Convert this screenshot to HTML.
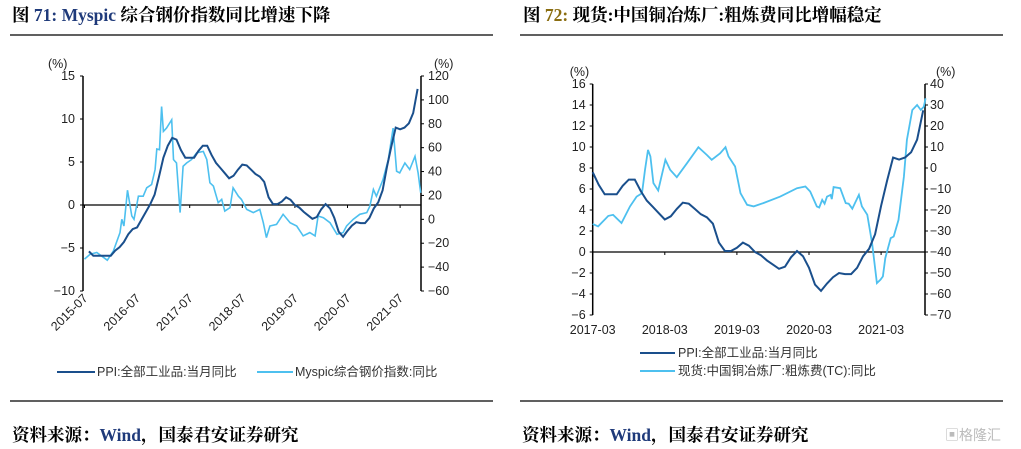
<!DOCTYPE html>
<html><head><meta charset="utf-8"><style>
body{margin:0;background:#fff;width:1021px;height:449px;overflow:hidden}
svg{display:block}
.t{font-family:"Liberation Serif","Noto Serif CJK SC",serif;font-weight:bold;font-size:17.5px}
.a{font-family:"Liberation Sans","Noto Sans CJK SC",sans-serif;font-size:12.5px;fill:#222}
.l{font-family:"Liberation Sans","Noto Sans CJK SC",sans-serif;font-size:12.5px;fill:#333}
</style></head><body>
<svg id="s" width="1021" height="449">
<text class="t" x="12" y="21">图 <tspan fill="#1f3a7a">71: Myspic</tspan> 综合钢价指数同比增速下降</text>
<line x1="10" y1="35" x2="493" y2="35" stroke="#000" stroke-width="1.3"/>
<text class="t" x="523" y="21">图 <tspan fill="#8a6d10">72:</tspan> 现货:中国铜冶炼厂:粗炼费同比增幅稳定</text>
<line x1="520" y1="35" x2="1003" y2="35" stroke="#000" stroke-width="1.3"/>
<line x1="10" y1="401" x2="493" y2="401" stroke="#000" stroke-width="1.3"/>
<line x1="520" y1="401" x2="1003" y2="401" stroke="#000" stroke-width="1.3"/>
<text class="t" x="12" y="441">资料来源：<tspan fill="#1f3a7a">Wind</tspan>，国泰君安证券研究</text>
<text class="t" x="522" y="441">资料来源：<tspan fill="#1f3a7a">Wind</tspan>，国泰君安证券研究</text>
<text x="945" y="440" font-family="Liberation Sans,Noto Sans CJK SC,sans-serif" font-size="14" fill="#bbb">▣格隆汇</text>
<g id="c1"></g>
<g id="c2"></g>
</svg>
<script>
// ---- Chart 1 data ----
const ppi1 = [-5.4,-5.9,-5.9,-5.9,-5.9,-5.9,-5.3,-4.9,-4.3,-3.4,-2.8,-2.6,-1.7,-0.8,0.1,1.2,3.3,5.5,6.9,7.8,7.6,6.4,5.5,5.5,5.5,6.3,6.9,6.9,5.8,4.9,4.3,3.7,3.1,3.4,4.1,4.7,4.6,4.1,3.6,3.3,2.7,0.9,0.1,0.1,0.4,0.9,0.6,0,-0.3,-0.8,-1.2,-1.6,-1.4,-0.5,0.1,-0.4,-1.5,-3.1,-3.7,-3.0,-2.4,-2.0,-2.1,-2.1,-1.5,-0.4,0.3,1.7,4.4,6.8,9.0,8.8,9.0,9.5,10.7,13.5];
const steelMonths = [0,1.3,2.8,5.2,6.6,8.1,8.5,9.0,9.8,10.8,11.3,12.3,13.4,14.2,15.3,16.1,16.5,17.1,17.6,18.0,18.7,19.9,20.3,21.0,21.8,22.5,23.3,24.4,25.6,27.1,27.9,28.6,29.4,30.5,31.3,32.0,33.2,33.9,35.1,35.8,37.0,38.5,40.0,40.8,41.5,42.3,43.8,45.3,46.9,48.4,49.9,51.4,52.6,53.3,54.5,56.0,57.6,59.0,59.8,61.3,62.8,64.4,65.1,65.9,66.6,68.1,69.3,70.4,71.2,71.9,73.1,74.2,75.4,76.1,76.7];
const steelVals = [-33.3,-29.2,-27.8,-34.2,-26.4,-11.1,0,-5.6,24.4,2.8,0,19.4,19.4,26.4,29.2,41.7,58.9,58.3,94.4,73.6,76.4,83.3,50,47.2,5.6,44.4,47.2,50,55.6,56.9,50,30.6,27.8,13.9,16.7,6.9,9.7,26.4,19.4,16.7,8.3,5.6,8.3,-2.8,-15.3,-5.6,-4.2,4.2,-2.8,-5.6,-13.9,-11.1,-13.9,2.8,1.4,-2.8,-12.5,-11.1,-5.6,0,4.2,5.6,11.1,25,19.4,33.3,50,76.4,40.3,38.9,47.2,41.7,52.8,38.9,22.2];
const ticks1L = [15,10,5,0,-5,-10];
const ticks1R = [120,100,80,60,40,20,0,-20,-40,-60];
const xlab1 = ["2015-07","2016-07","2017-07","2018-07","2019-07","2020-07","2021-07"];
// ---- Chart 2 data ----
const ppi2 = [7.6,6.4,5.5,5.5,5.5,6.3,6.9,6.9,5.8,4.9,4.3,3.7,3.1,3.4,4.1,4.7,4.6,4.1,3.6,3.3,2.7,0.9,0.1,0.1,0.4,0.9,0.6,0,-0.3,-0.8,-1.2,-1.6,-1.4,-0.5,0.1,-0.4,-1.5,-3.1,-3.7,-3.0,-2.4,-2.0,-2.1,-2.1,-1.5,-0.4,0.3,1.7,4.4,6.8,9.0,8.8,9.0,9.5,10.7,13.5];
const tcMonths = [0,0.9,2.6,3.4,4.8,6.2,7.3,8.2,8.7,9.2,9.6,10.1,10.9,12.1,12.9,14,15.7,17.6,19,19.8,21.2,22.1,22.6,23.7,24.6,25.7,26.8,28.4,31.2,34,35.4,36.2,37.3,37.7,38.2,38.6,39,39.6,39.8,40.1,41.2,42.1,42.6,43.2,43.7,44.3,44.8,45.7,46.5,47.3,47.9,48.3,48.7,49.6,50.1,50.9,51.8,52.3,53.2,54,54.6,55.1,55.4];
const tcVals = [-26.6,-27.8,-22.8,-22.3,-26.2,-18.3,-13.6,-12,-0.9,8.6,5.5,-7.2,-10.7,3.9,-0.9,-4.4,2.3,9.9,6.2,3.9,7,9.9,5.5,0.7,-12,-17.5,-18.3,-16.7,-13.6,-9.6,-8.8,-11.2,-18.3,-18.8,-15.2,-17,-13.6,-12.8,-14.8,-9.1,-9.6,-16.7,-17,-19.4,-16.4,-12.8,-18.3,-22.3,-35.8,-54.8,-53.2,-51.6,-42.9,-33.4,-32.6,-24.7,-4.1,13.4,27.6,30,27.6,29.2,33.2];
const ticks2L = [16,14,12,10,8,6,4,2,0,-2,-4,-6];
const ticks2R = [40,30,20,10,0,-10,-20,-30,-40,-50,-60,-70];
const xlab2 = ["2017-03","2018-03","2019-03","2020-03","2021-03"];

const NS="http://www.w3.org/2000/svg";
function mk(parent,tag,attrs){const e=document.createElementNS(NS,tag);for(const k in attrs)e.setAttribute(k,attrs[k]);parent.appendChild(e);return e;}
function lin(d0,d1,r0,r1){return v=>r0+(v-d0)/(d1-d0)*(r1-r0);}
function pathOf(xs,ys){return xs.map((x,i)=>(i?'L':'M')+x.toFixed(1)+','+ys[i].toFixed(1)).join('');}

// ---- chart 1 ----
(function(){
const g=document.getElementById('c1');
const X=lin(0,12,84.5,137.1), YL=lin(15,-10,76,291), YR=lin(120,-60,76,291);
const x0=83,x1=421;
let e;
e=mk(g,'line',{x1:x0,y1:76,x2:x0,y2:291,stroke:'#000','stroke-width':1.5});

e=mk(g,'line',{x1:x1,y1:76,x2:x1,y2:291,stroke:'#000','stroke-width':1.5});

e=mk(g,'line',{x1:x0,y1:YL(0),x2:x1,y2:YL(0),stroke:'#000','stroke-width':1.3});

ticks1L.forEach(v=>{mk(g,'line',{x1:x0-3,y1:YL(v),x2:x0,y2:YL(v),stroke:'#000'});
 e=mk(g,'text',{x:x0-8,y:YL(v)+4,'text-anchor':'end',class:'a'});e.textContent=v<0?'−'+(-v):v;
 });
ticks1R.forEach(v=>{mk(g,'line',{x1:x1,y1:YR(v),x2:x1+3,y2:YR(v),stroke:'#000'});
 e=mk(g,'text',{x:x1+7,y:YR(v)+4,class:'a'});e.textContent=v<0?'−'+(-v):v;
 });
e=mk(g,'text',{x:x0-35,y:68,class:'a','font-size':'10'});e.textContent='(%)';

e=mk(g,'text',{x:x1+13,y:68,class:'a','font-size':'10'});e.textContent='(%)';

xlab1.forEach((s,i)=>{const tx=X(i*12);mk(g,'line',{x1:tx,y1:YL(0),x2:tx,y2:YL(0)+3,stroke:'#000'});
 e=mk(g,'text',{x:tx+4,y:299,'text-anchor':'end',class:'a','font-size':'11.5',transform:`rotate(-45 ${tx+4} 299)`});e.textContent=s;
 });
e=mk(g,'path',{d:pathOf(steelMonths.map(X),steelVals.map(YR)),fill:'none',stroke:'#4dc0ef','stroke-width':1.6});

e=mk(g,'path',{d:pathOf(ppi1.map((v,i)=>X(i+1)),ppi1.map(YL)),fill:'none',stroke:'#1a4f8c','stroke-width':2});

// legend
e=mk(g,'line',{x1:57,y1:372,x2:95,y2:372,stroke:'#1a4f8c','stroke-width':2});

e=mk(g,'text',{x:97,y:376,class:'l'});e.textContent='PPI:全部工业品:当月同比';

e=mk(g,'line',{x1:257,y1:372,x2:293,y2:372,stroke:'#4dc0ef','stroke-width':2});

e=mk(g,'text',{x:295,y:376,class:'l'});e.textContent='Myspic综合钢价指数:同比';

})();

// ---- chart 2 ----
(function(){
const g=document.getElementById('c2');
const X=lin(0,12,592.7,664.8), YL=lin(16,-6,84,315), YR=lin(40,-70,84,315);
const x0=592.7,x1=925;
let e;
e=mk(g,'line',{x1:x0,y1:84,x2:x0,y2:315,stroke:'#000','stroke-width':1.5});

e=mk(g,'line',{x1:x1,y1:84,x2:x1,y2:315,stroke:'#000','stroke-width':1.5});

e=mk(g,'line',{x1:x0,y1:YL(0),x2:x1,y2:YL(0),stroke:'#000','stroke-width':1.3});

ticks2L.forEach(v=>{mk(g,'line',{x1:x0-3,y1:YL(v),x2:x0,y2:YL(v),stroke:'#000'});
 e=mk(g,'text',{x:x0-7,y:YL(v)+4,'text-anchor':'end',class:'a'});e.textContent=v<0?'−'+(-v):v;
 });
ticks2R.forEach(v=>{mk(g,'line',{x1:x1,y1:YR(v),x2:x1+3,y2:YR(v),stroke:'#000'});
 e=mk(g,'text',{x:x1+5,y:YR(v)+4,class:'a'});e.textContent=v<0?'−'+(-v):v;
 });
e=mk(g,'text',{x:x0-23,y:76,class:'a','font-size':'10'});e.textContent='(%)';

e=mk(g,'text',{x:x1+11,y:76,class:'a','font-size':'10'});e.textContent='(%)';

xlab2.forEach((s,i)=>{const tx=X(i*12);mk(g,'line',{x1:tx,y1:YL(0),x2:tx,y2:YL(0)+3,stroke:'#000'});
 e=mk(g,'text',{x:tx,y:334,'text-anchor':'middle',class:'a'});e.textContent=s;
 });
e=mk(g,'path',{d:pathOf(tcMonths.map(X),tcVals.map(YR)),fill:'none',stroke:'#4dc0ef','stroke-width':1.8});

e=mk(g,'path',{d:pathOf(ppi2.map((v,i)=>X(i)),ppi2.map(YL)),fill:'none',stroke:'#1a4f8c','stroke-width':2});

e=mk(g,'line',{x1:640,y1:353,x2:675,y2:353,stroke:'#1a4f8c','stroke-width':2});

e=mk(g,'text',{x:678,y:357,class:'l'});e.textContent='PPI:全部工业品:当月同比';

e=mk(g,'line',{x1:640,y1:371,x2:675,y2:371,stroke:'#4dc0ef','stroke-width':2});

e=mk(g,'text',{x:678,y:375,class:'l'});e.textContent='现货:中国铜冶炼厂:粗炼费(TC):同比';

})();
</script>
</body></html>
